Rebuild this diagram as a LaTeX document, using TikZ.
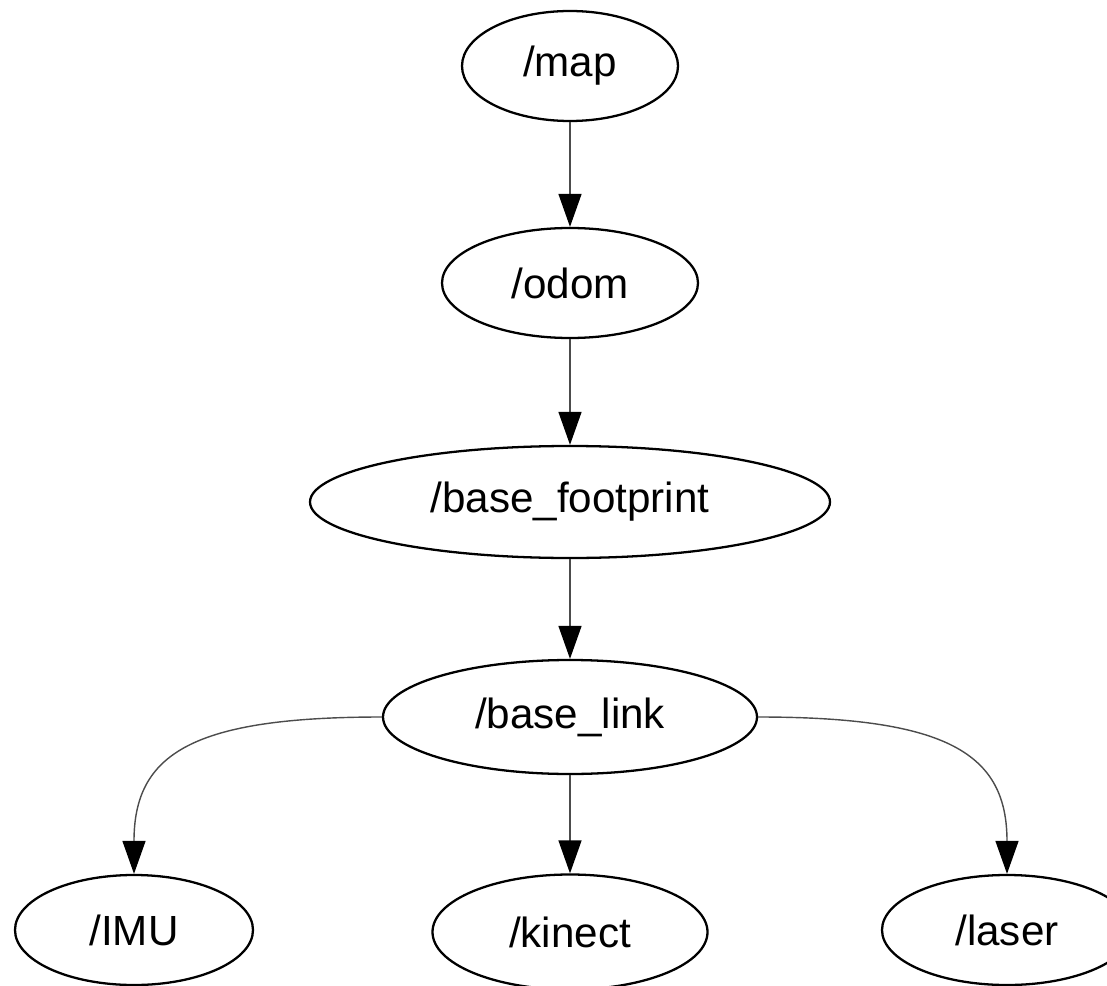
\documentclass[tikz,border=0pt]{standalone}
\usepackage{fontspec}
\setmainfont{Liberation Sans}
\usetikzlibrary{arrows.meta,shapes.geometric}

\begin{document}
\begin{tikzpicture}
\tikzstyle{frame}=[ellipse,draw=black,line width=1.3pt,inner sep=0pt,minimum height=2.2cm,font=\fontsize{24}{28}\selectfont]
\tikzstyle{tfedge}=[draw=black!70,line width=0.8pt,-{Triangle[length=0.66cm,width=0.46cm,color=black]}]
% end of definitions
\useasboundingbox (0,0) rectangle (22.14,-19.72);
\node[frame,minimum width=4.32cm] (map) at (11.4,-1.32) {/map};
\node[frame,minimum width=5.12cm] (odom) at (11.4,-5.66) {/odom};
\node[frame,minimum width=10.4cm,minimum height=2.24cm] (base_footprint) at (11.4,-10.04) {/base\_footprint};
\node[frame,minimum width=7.48cm,minimum height=2.28cm] (base_link) at (11.4,-14.34) {/base\_link};
\node[frame,minimum width=4.76cm] (imu) at (2.68,-18.6) {/IMU};
\node[frame,minimum width=5.5cm,minimum height=2.3cm] (kinect) at (11.4,-18.64) {/kinect};
\node[frame,minimum width=5.0cm] (laser) at (20.14,-18.6) {/laser};
% tf tree
\draw[tfedge] (map) -- (odom);
\draw[tfedge] (odom) -- (base_footprint);
\draw[tfedge] (base_footprint) -- (base_link);
\draw[tfedge] (base_link) -- (kinect);
\draw[tfedge] (base_link.west) .. controls +(-3.8,0) and +(0,2.4) .. (imu.north);
\draw[tfedge] (base_link.east) .. controls +(3.8,0) and +(0,2.4) .. (laser.north);
\end{tikzpicture}
\end{document}
